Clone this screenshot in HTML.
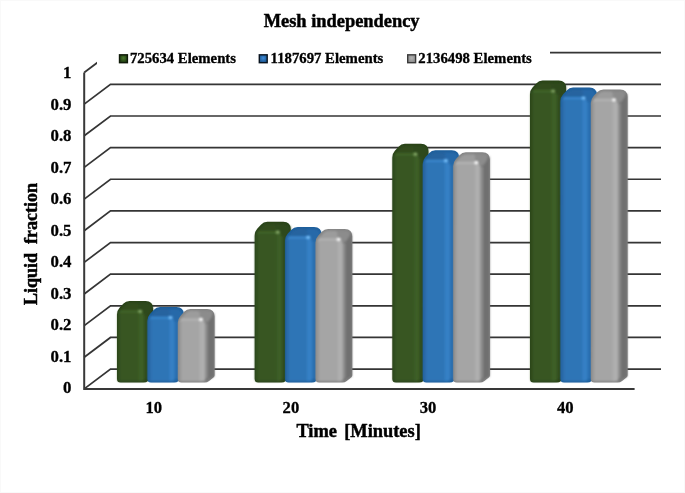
<!DOCTYPE html>
<html><head><meta charset="utf-8"><title>Mesh independency</title>
<style>html,body{margin:0;padding:0;background:#fff;overflow:hidden}svg{display:block}text{font-family:"Liberation Serif","Times New Roman",serif;font-weight:bold;fill:#000}</style></head><body>
<svg width="685" height="493" viewBox="0 0 685 493">
<defs>
<filter id="b1" x="-10%" y="-10%" width="120%" height="120%"><feGaussianBlur stdDeviation="0.9"/></filter>
<filter id="b2" x="-50%" y="-50%" width="200%" height="200%"><feGaussianBlur stdDeviation="1.1"/></filter>
<filter id="b0" x="-5%" y="-5%" width="110%" height="110%"><feGaussianBlur stdDeviation="0.35"/></filter>
</defs>
<rect x="0" y="0" width="685" height="493" fill="#fff"/>
<rect x="0.5" y="0.5" width="684" height="492" fill="none" stroke="#f9f9f9" stroke-width="1"/>
<g fill="none" stroke="#343434" stroke-width="1.7" stroke-linejoin="miter" filter="url(#b0)">
<path d="M84.2,388.90 L110.5,369.10 H661"/>
<path d="M84.2,357.26 L110.5,337.46 H661"/>
<path d="M84.2,325.62 L110.5,305.82 H661"/>
<path d="M84.2,293.98 L110.5,274.18 H661"/>
<path d="M84.2,262.34 L110.5,242.54 H661"/>
<path d="M84.2,230.70 L110.5,210.90 H661"/>
<path d="M84.2,199.06 L110.5,179.26 H661"/>
<path d="M84.2,167.42 L110.5,147.62 H661"/>
<path d="M84.2,135.78 L110.5,115.98 H661"/>
<path d="M84.2,104.14 L110.5,84.34 H661"/>
<path d="M84.2,72.50 L110.5,52.70 H661"/>
<path d="M84.2,72.50 V388.90 H634.6" stroke-width="2.0" stroke="#383838"/>
</g>
<rect x="97" y="44" width="453" height="26" fill="#fff"/>
<g>
<path d="M117.00,379.00 Q117.00,382.50 120.50,382.50 L143.70,382.50 Q146.20,382.50 148.11,380.89 L151.95,377.67 Q153.10,376.70 153.10,375.20 L153.10,308.40 Q153.10,300.90 145.60,300.90 L129.60,300.90 Q125.80,300.90 123.26,303.73 L119.54,307.87 Q117.00,310.70 117.00,314.50 Z" fill="#29421a"/>
<g filter="url(#b1)">
<path d="M144.30,305.90 L152.70,305.40 V376.30 L144.30,381.50 Z" fill="#2d471b"/>
<path d="M119.40,315.05 Q118.40,315.10 118.46,314.10 L118.50,313.35 Q118.60,311.60 120.66,309.42 L124.94,304.88 Q127.00,302.70 130.00,302.75 L137.60,302.88 Q138.60,302.90 138.74,303.89 L140.06,313.11 Q140.20,314.10 139.20,314.15 Z" fill="#304c1d"/>
<path d="M140.70,314.10 Q140.20,314.10 140.13,313.61 L138.67,303.39 Q138.60,302.90 139.10,302.90 L146.10,302.90 Q149.60,302.90 150.45,304.90 L150.52,305.06 Q151.30,306.90 150.26,308.61 L147.42,313.25 Q146.90,314.10 145.90,314.10 Z" fill="#2f4a1c"/>
<path d="M118.01,378.70 Q118.00,381.20 120.50,381.20 L138.60,381.20 Q139.10,381.20 139.10,380.70 L139.10,311.60 Q139.10,311.10 138.60,311.10 L122.20,311.10 Q118.20,311.10 118.19,315.10 Z" fill="#385723"/>
<rect x="117.80" y="314.10" width="2.6" height="66.40" fill="#324f1f"/>
<path d="M138.80,380.70 Q138.80,381.20 139.30,381.20 L140.80,381.20 Q142.80,381.20 143.55,380.60 L143.55,380.60 Q144.30,380.00 144.30,379.00 L144.30,316.60 Q144.30,313.60 141.57,312.36 L139.26,311.31 Q138.80,311.10 138.80,311.60 Z" fill="#3d5e27"/>
<rect x="144.30" y="315.10" width="2.60" height="63.40" fill="#324d1e"/>
<path d="M120.00,311.40 H139.80" stroke="#456b2d" stroke-width="1.6" fill="none"/>
</g>
<ellipse cx="140.10" cy="311.30" rx="2.0" ry="1.6" fill="#86aa68" filter="url(#b2)"/>
</g>
<g>
<path d="M147.45,379.00 Q147.45,382.50 150.95,382.50 L174.15,382.50 Q176.65,382.50 178.60,380.93 L182.68,377.64 Q183.85,376.70 183.85,375.20 L183.85,314.60 Q183.85,307.10 176.35,307.10 L160.05,307.10 Q156.25,307.10 153.71,309.93 L149.99,314.07 Q147.45,316.90 147.45,320.70 Z" fill="#1e5e9b"/>
<g filter="url(#b1)">
<path d="M174.75,312.10 L183.45,311.60 V376.30 L174.75,381.50 Z" fill="#2266a6"/>
<path d="M149.85,321.25 Q148.85,321.30 148.91,320.30 L148.95,319.55 Q149.05,317.80 151.11,315.62 L155.39,311.08 Q157.45,308.90 160.45,308.95 L168.05,309.08 Q169.05,309.10 169.19,310.09 L170.51,319.31 Q170.65,320.30 169.65,320.35 Z" fill="#25639f"/>
<path d="M171.15,320.30 Q170.65,320.30 170.58,319.81 L169.12,309.59 Q169.05,309.10 169.55,309.10 L176.85,309.10 Q180.35,309.10 181.20,311.10 L181.27,311.26 Q182.05,313.10 180.96,314.77 L177.90,319.46 Q177.35,320.30 176.35,320.30 Z" fill="#2769a9"/>
<path d="M148.46,378.70 Q148.45,381.20 150.95,381.20 L169.05,381.20 Q169.55,381.20 169.55,380.70 L169.55,317.80 Q169.55,317.30 169.05,317.30 L152.65,317.30 Q148.65,317.30 148.64,321.30 Z" fill="#2e75b6"/>
<rect x="148.25" y="320.30" width="2.6" height="60.20" fill="#2969a6"/>
<path d="M169.25,380.70 Q169.25,381.20 169.75,381.20 L171.25,381.20 Q173.25,381.20 174.00,380.60 L174.00,380.60 Q174.75,380.00 174.75,379.00 L174.75,322.80 Q174.75,319.80 172.02,318.56 L169.71,317.51 Q169.25,317.30 169.25,317.80 Z" fill="#3680c5"/>
<rect x="174.75" y="321.30" width="2.60" height="57.20" fill="#2a70b2"/>
<path d="M150.45,317.60 H170.25" stroke="#3e8dd6" stroke-width="1.6" fill="none"/>
</g>
<ellipse cx="170.55" cy="317.50" rx="2.0" ry="1.6" fill="#7cc4ff" filter="url(#b2)"/>
</g>
<g>
<path d="M177.90,379.00 Q177.90,382.50 181.40,382.50 L204.60,382.50 Q207.10,382.50 209.08,380.97 L213.41,377.62 Q214.60,376.70 214.60,375.20 L214.60,316.50 Q214.60,309.00 207.10,309.00 L190.50,309.00 Q186.70,309.00 184.16,311.83 L180.44,315.97 Q177.90,318.80 177.90,322.60 Z" fill="#848484"/>
<g filter="url(#b1)">
<path d="M205.20,314.00 L214.20,313.50 V376.30 L205.20,381.50 Z" fill="#707070"/>
<path d="M180.30,323.15 Q179.30,323.20 179.36,322.20 L179.40,321.45 Q179.50,319.70 181.56,317.52 L185.84,312.98 Q187.90,310.80 190.90,310.85 L198.50,310.98 Q199.50,311.00 199.64,311.99 L200.96,321.21 Q201.10,322.20 200.10,322.25 Z" fill="#9c9c9c"/>
<path d="M201.60,322.20 Q201.10,322.20 201.03,321.71 L199.57,311.49 Q199.50,311.00 200.00,311.00 L207.60,311.00 Q211.10,311.00 211.95,313.00 L212.02,313.16 Q212.80,315.00 211.66,316.64 L208.37,321.38 Q207.80,322.20 206.80,322.20 Z" fill="#8c8c8c"/>
<path d="M178.91,378.70 Q178.90,381.20 181.40,381.20 L199.50,381.20 Q200.00,381.20 200.00,380.70 L200.00,319.70 Q200.00,319.20 199.50,319.20 L183.10,319.20 Q179.10,319.20 179.09,323.20 Z" fill="#a5a5a5"/>
<rect x="178.70" y="322.20" width="2.6" height="58.30" fill="#979797"/>
<path d="M199.70,380.70 Q199.70,381.20 200.20,381.20 L201.70,381.20 Q203.70,381.20 204.45,380.60 L204.45,380.60 Q205.20,380.00 205.20,379.00 L205.20,324.70 Q205.20,321.70 202.47,320.46 L200.16,319.41 Q199.70,319.20 199.70,319.70 Z" fill="#afafaf"/>
<rect x="205.20" y="323.20" width="2.60" height="55.30" fill="#8c8c8c"/>
<path d="M180.90,319.50 H200.70" stroke="#b8b8b8" stroke-width="1.6" fill="none"/>
</g>
<ellipse cx="201.00" cy="319.40" rx="2.0" ry="1.6" fill="#ffffff" filter="url(#b2)"/>
</g>
<g>
<path d="M254.67,379.00 Q254.67,382.50 258.17,382.50 L281.37,382.50 Q283.87,382.50 285.78,380.89 L289.62,377.67 Q290.77,376.70 290.77,375.20 L290.77,229.30 Q290.77,221.80 283.27,221.80 L267.27,221.80 Q263.47,221.80 260.93,224.63 L257.21,228.77 Q254.67,231.60 254.67,235.40 Z" fill="#29421a"/>
<g filter="url(#b1)">
<path d="M281.97,226.80 L290.37,226.30 V376.30 L281.97,381.50 Z" fill="#2d471b"/>
<path d="M257.07,235.95 Q256.07,236.00 256.13,235.00 L256.17,234.25 Q256.27,232.50 258.33,230.32 L262.61,225.78 Q264.67,223.60 267.67,223.65 L275.27,223.78 Q276.27,223.80 276.41,224.79 L277.73,234.01 Q277.87,235.00 276.87,235.05 Z" fill="#304c1d"/>
<path d="M278.37,235.00 Q277.87,235.00 277.80,234.51 L276.34,224.29 Q276.27,223.80 276.77,223.80 L283.77,223.80 Q287.27,223.80 288.12,225.80 L288.19,225.96 Q288.97,227.80 287.93,229.51 L285.09,234.15 Q284.57,235.00 283.57,235.00 Z" fill="#2f4a1c"/>
<path d="M255.67,378.70 Q255.67,381.20 258.17,381.20 L276.27,381.20 Q276.77,381.20 276.77,380.70 L276.77,232.50 Q276.77,232.00 276.27,232.00 L259.87,232.00 Q255.87,232.00 255.86,236.00 Z" fill="#385723"/>
<rect x="255.47" y="235.00" width="2.6" height="145.50" fill="#324f1f"/>
<path d="M276.47,380.70 Q276.47,381.20 276.97,381.20 L278.47,381.20 Q280.47,381.20 281.22,380.60 L281.22,380.60 Q281.97,380.00 281.97,379.00 L281.97,237.50 Q281.97,234.50 279.24,233.26 L276.93,232.21 Q276.47,232.00 276.47,232.50 Z" fill="#3d5e27"/>
<rect x="281.97" y="236.00" width="2.60" height="142.50" fill="#324d1e"/>
<path d="M257.67,232.30 H277.47" stroke="#456b2d" stroke-width="1.6" fill="none"/>
</g>
<ellipse cx="277.77" cy="232.20" rx="2.0" ry="1.6" fill="#86aa68" filter="url(#b2)"/>
</g>
<g>
<path d="M285.12,379.00 Q285.12,382.50 288.62,382.50 L311.82,382.50 Q314.32,382.50 316.27,380.93 L320.35,377.64 Q321.52,376.70 321.52,375.20 L321.52,234.40 Q321.52,226.90 314.02,226.90 L297.72,226.90 Q293.92,226.90 291.38,229.73 L287.66,233.87 Q285.12,236.70 285.12,240.50 Z" fill="#1e5e9b"/>
<g filter="url(#b1)">
<path d="M312.42,231.90 L321.12,231.40 V376.30 L312.42,381.50 Z" fill="#2266a6"/>
<path d="M287.52,241.05 Q286.52,241.10 286.58,240.10 L286.62,239.35 Q286.72,237.60 288.78,235.42 L293.06,230.88 Q295.12,228.70 298.12,228.75 L305.72,228.88 Q306.72,228.90 306.86,229.89 L308.18,239.11 Q308.32,240.10 307.32,240.15 Z" fill="#25639f"/>
<path d="M308.82,240.10 Q308.32,240.10 308.25,239.61 L306.79,229.39 Q306.72,228.90 307.22,228.90 L314.52,228.90 Q318.02,228.90 318.87,230.90 L318.94,231.06 Q319.72,232.90 318.63,234.57 L315.57,239.26 Q315.02,240.10 314.02,240.10 Z" fill="#2769a9"/>
<path d="M286.12,378.70 Q286.12,381.20 288.62,381.20 L306.72,381.20 Q307.22,381.20 307.22,380.70 L307.22,237.60 Q307.22,237.10 306.72,237.10 L290.32,237.10 Q286.32,237.10 286.31,241.10 Z" fill="#2e75b6"/>
<rect x="285.92" y="240.10" width="2.6" height="140.40" fill="#2969a6"/>
<path d="M306.92,380.70 Q306.92,381.20 307.42,381.20 L308.92,381.20 Q310.92,381.20 311.67,380.60 L311.67,380.60 Q312.42,380.00 312.42,379.00 L312.42,242.60 Q312.42,239.60 309.69,238.36 L307.38,237.31 Q306.92,237.10 306.92,237.60 Z" fill="#3680c5"/>
<rect x="312.42" y="241.10" width="2.60" height="137.40" fill="#2a70b2"/>
<path d="M288.12,237.40 H307.92" stroke="#3e8dd6" stroke-width="1.6" fill="none"/>
</g>
<ellipse cx="308.22" cy="237.30" rx="2.0" ry="1.6" fill="#7cc4ff" filter="url(#b2)"/>
</g>
<g>
<path d="M315.57,379.00 Q315.57,382.50 319.07,382.50 L342.27,382.50 Q344.77,382.50 346.75,380.97 L351.08,377.62 Q352.27,376.70 352.27,375.20 L352.27,236.40 Q352.27,228.90 344.77,228.90 L328.17,228.90 Q324.37,228.90 321.83,231.73 L318.11,235.87 Q315.57,238.70 315.57,242.50 Z" fill="#848484"/>
<g filter="url(#b1)">
<path d="M342.87,233.90 L351.87,233.40 V376.30 L342.87,381.50 Z" fill="#707070"/>
<path d="M317.97,243.05 Q316.97,243.10 317.03,242.10 L317.07,241.35 Q317.17,239.60 319.23,237.42 L323.51,232.88 Q325.57,230.70 328.57,230.75 L336.17,230.88 Q337.17,230.90 337.31,231.89 L338.63,241.11 Q338.77,242.10 337.77,242.15 Z" fill="#9c9c9c"/>
<path d="M339.27,242.10 Q338.77,242.10 338.70,241.61 L337.24,231.39 Q337.17,230.90 337.67,230.90 L345.27,230.90 Q348.77,230.90 349.62,232.90 L349.69,233.06 Q350.47,234.90 349.33,236.54 L346.04,241.28 Q345.47,242.10 344.47,242.10 Z" fill="#8c8c8c"/>
<path d="M316.57,378.70 Q316.57,381.20 319.07,381.20 L337.17,381.20 Q337.67,381.20 337.67,380.70 L337.67,239.60 Q337.67,239.10 337.17,239.10 L320.77,239.10 Q316.77,239.10 316.76,243.10 Z" fill="#a5a5a5"/>
<rect x="316.37" y="242.10" width="2.6" height="138.40" fill="#979797"/>
<path d="M337.37,380.70 Q337.37,381.20 337.87,381.20 L339.37,381.20 Q341.37,381.20 342.12,380.60 L342.12,380.60 Q342.87,380.00 342.87,379.00 L342.87,244.60 Q342.87,241.60 340.14,240.36 L337.83,239.31 Q337.37,239.10 337.37,239.60 Z" fill="#afafaf"/>
<rect x="342.87" y="243.10" width="2.60" height="135.40" fill="#8c8c8c"/>
<path d="M318.57,239.40 H338.37" stroke="#b8b8b8" stroke-width="1.6" fill="none"/>
</g>
<ellipse cx="338.67" cy="239.30" rx="2.0" ry="1.6" fill="#ffffff" filter="url(#b2)"/>
</g>
<g>
<path d="M392.34,379.00 Q392.34,382.50 395.84,382.50 L419.04,382.50 Q421.54,382.50 423.45,380.89 L427.29,377.67 Q428.44,376.70 428.44,375.20 L428.44,151.30 Q428.44,143.80 420.94,143.80 L404.94,143.80 Q401.14,143.80 398.60,146.63 L394.88,150.77 Q392.34,153.60 392.34,157.40 Z" fill="#29421a"/>
<g filter="url(#b1)">
<path d="M419.64,148.80 L428.04,148.30 V376.30 L419.64,381.50 Z" fill="#2d471b"/>
<path d="M394.74,157.95 Q393.74,158.00 393.80,157.00 L393.84,156.25 Q393.94,154.50 396.00,152.32 L400.28,147.78 Q402.34,145.60 405.34,145.65 L412.94,145.78 Q413.94,145.80 414.08,146.79 L415.40,156.01 Q415.54,157.00 414.54,157.05 Z" fill="#304c1d"/>
<path d="M416.04,157.00 Q415.54,157.00 415.47,156.51 L414.01,146.29 Q413.94,145.80 414.44,145.80 L421.44,145.80 Q424.94,145.80 425.79,147.80 L425.86,147.96 Q426.64,149.80 425.60,151.51 L422.76,156.15 Q422.24,157.00 421.24,157.00 Z" fill="#2f4a1c"/>
<path d="M393.34,378.70 Q393.34,381.20 395.84,381.20 L413.94,381.20 Q414.44,381.20 414.44,380.70 L414.44,154.50 Q414.44,154.00 413.94,154.00 L397.54,154.00 Q393.54,154.00 393.54,158.00 Z" fill="#385723"/>
<rect x="393.14" y="157.00" width="2.6" height="223.50" fill="#324f1f"/>
<path d="M414.14,380.70 Q414.14,381.20 414.64,381.20 L416.14,381.20 Q418.14,381.20 418.89,380.60 L418.89,380.60 Q419.64,380.00 419.64,379.00 L419.64,159.50 Q419.64,156.50 416.91,155.26 L414.60,154.21 Q414.14,154.00 414.14,154.50 Z" fill="#3d5e27"/>
<rect x="419.64" y="158.00" width="2.60" height="220.50" fill="#324d1e"/>
<path d="M395.34,154.30 H415.14" stroke="#456b2d" stroke-width="1.6" fill="none"/>
</g>
<ellipse cx="415.44" cy="154.20" rx="2.0" ry="1.6" fill="#86aa68" filter="url(#b2)"/>
</g>
<g>
<path d="M422.79,379.00 Q422.79,382.50 426.29,382.50 L449.49,382.50 Q451.99,382.50 453.94,380.93 L458.02,377.64 Q459.19,376.70 459.19,375.20 L459.19,157.80 Q459.19,150.30 451.69,150.30 L435.39,150.30 Q431.59,150.30 429.05,153.13 L425.33,157.27 Q422.79,160.10 422.79,163.90 Z" fill="#1e5e9b"/>
<g filter="url(#b1)">
<path d="M450.09,155.30 L458.79,154.80 V376.30 L450.09,381.50 Z" fill="#2266a6"/>
<path d="M425.19,164.45 Q424.19,164.50 424.25,163.50 L424.29,162.75 Q424.39,161.00 426.45,158.82 L430.73,154.28 Q432.79,152.10 435.79,152.15 L443.39,152.28 Q444.39,152.30 444.53,153.29 L445.85,162.51 Q445.99,163.50 444.99,163.55 Z" fill="#25639f"/>
<path d="M446.49,163.50 Q445.99,163.50 445.92,163.01 L444.46,152.79 Q444.39,152.30 444.89,152.30 L452.19,152.30 Q455.69,152.30 456.54,154.30 L456.61,154.46 Q457.39,156.30 456.30,157.97 L453.24,162.66 Q452.69,163.50 451.69,163.50 Z" fill="#2769a9"/>
<path d="M423.79,378.70 Q423.79,381.20 426.29,381.20 L444.39,381.20 Q444.89,381.20 444.89,380.70 L444.89,161.00 Q444.89,160.50 444.39,160.50 L427.99,160.50 Q423.99,160.50 423.99,164.50 Z" fill="#2e75b6"/>
<rect x="423.59" y="163.50" width="2.6" height="217.00" fill="#2969a6"/>
<path d="M444.59,380.70 Q444.59,381.20 445.09,381.20 L446.59,381.20 Q448.59,381.20 449.34,380.60 L449.34,380.60 Q450.09,380.00 450.09,379.00 L450.09,166.00 Q450.09,163.00 447.36,161.76 L445.05,160.71 Q444.59,160.50 444.59,161.00 Z" fill="#3680c5"/>
<rect x="450.09" y="164.50" width="2.60" height="214.00" fill="#2a70b2"/>
<path d="M425.79,160.80 H445.59" stroke="#3e8dd6" stroke-width="1.6" fill="none"/>
</g>
<ellipse cx="445.89" cy="160.70" rx="2.0" ry="1.6" fill="#7cc4ff" filter="url(#b2)"/>
</g>
<g>
<path d="M453.24,379.00 Q453.24,382.50 456.74,382.50 L479.94,382.50 Q482.44,382.50 484.42,380.97 L488.75,377.62 Q489.94,376.70 489.94,375.20 L489.94,159.80 Q489.94,152.30 482.44,152.30 L465.84,152.30 Q462.04,152.30 459.50,155.13 L455.78,159.27 Q453.24,162.10 453.24,165.90 Z" fill="#848484"/>
<g filter="url(#b1)">
<path d="M480.54,157.30 L489.54,156.80 V376.30 L480.54,381.50 Z" fill="#707070"/>
<path d="M455.64,166.45 Q454.64,166.50 454.70,165.50 L454.74,164.75 Q454.84,163.00 456.90,160.82 L461.18,156.28 Q463.24,154.10 466.24,154.15 L473.84,154.28 Q474.84,154.30 474.98,155.29 L476.30,164.51 Q476.44,165.50 475.44,165.55 Z" fill="#9c9c9c"/>
<path d="M476.94,165.50 Q476.44,165.50 476.37,165.01 L474.91,154.79 Q474.84,154.30 475.34,154.30 L482.94,154.30 Q486.44,154.30 487.29,156.30 L487.36,156.46 Q488.14,158.30 487.00,159.94 L483.71,164.68 Q483.14,165.50 482.14,165.50 Z" fill="#8c8c8c"/>
<path d="M454.24,378.70 Q454.24,381.20 456.74,381.20 L474.84,381.20 Q475.34,381.20 475.34,380.70 L475.34,163.00 Q475.34,162.50 474.84,162.50 L458.44,162.50 Q454.44,162.50 454.44,166.50 Z" fill="#a5a5a5"/>
<rect x="454.04" y="165.50" width="2.6" height="215.00" fill="#979797"/>
<path d="M475.04,380.70 Q475.04,381.20 475.54,381.20 L477.04,381.20 Q479.04,381.20 479.79,380.60 L479.79,380.60 Q480.54,380.00 480.54,379.00 L480.54,168.00 Q480.54,165.00 477.81,163.76 L475.50,162.71 Q475.04,162.50 475.04,163.00 Z" fill="#afafaf"/>
<rect x="480.54" y="166.50" width="2.60" height="212.00" fill="#8c8c8c"/>
<path d="M456.24,162.80 H476.04" stroke="#b8b8b8" stroke-width="1.6" fill="none"/>
</g>
<ellipse cx="476.34" cy="162.70" rx="2.0" ry="1.6" fill="#ffffff" filter="url(#b2)"/>
</g>
<g>
<path d="M530.01,379.00 Q530.01,382.50 533.51,382.50 L556.71,382.50 Q559.21,382.50 561.12,380.89 L564.96,377.67 Q566.11,376.70 566.11,375.20 L566.11,88.10 Q566.11,80.60 558.61,80.60 L542.61,80.60 Q538.81,80.60 536.27,83.43 L532.55,87.57 Q530.01,90.40 530.01,94.20 Z" fill="#29421a"/>
<g filter="url(#b1)">
<path d="M557.31,85.60 L565.71,85.10 V376.30 L557.31,381.50 Z" fill="#2d471b"/>
<path d="M532.41,94.75 Q531.41,94.80 531.47,93.80 L531.51,93.05 Q531.61,91.30 533.67,89.12 L537.95,84.58 Q540.01,82.40 543.01,82.45 L550.61,82.58 Q551.61,82.60 551.75,83.59 L553.07,92.81 Q553.21,93.80 552.21,93.85 Z" fill="#304c1d"/>
<path d="M553.71,93.80 Q553.21,93.80 553.14,93.31 L551.68,83.09 Q551.61,82.60 552.11,82.60 L559.11,82.60 Q562.61,82.60 563.46,84.60 L563.53,84.76 Q564.31,86.60 563.27,88.31 L560.43,92.95 Q559.91,93.80 558.91,93.80 Z" fill="#2f4a1c"/>
<path d="M531.01,378.70 Q531.01,381.20 533.51,381.20 L551.61,381.20 Q552.11,381.20 552.11,380.70 L552.11,91.30 Q552.11,90.80 551.61,90.80 L535.21,90.80 Q531.21,90.80 531.21,94.80 Z" fill="#385723"/>
<rect x="530.81" y="93.80" width="2.6" height="286.70" fill="#324f1f"/>
<path d="M551.81,380.70 Q551.81,381.20 552.31,381.20 L553.81,381.20 Q555.81,381.20 556.56,380.60 L556.56,380.60 Q557.31,380.00 557.31,379.00 L557.31,96.30 Q557.31,93.30 554.58,92.06 L552.27,91.01 Q551.81,90.80 551.81,91.30 Z" fill="#3d5e27"/>
<rect x="557.31" y="94.80" width="2.60" height="283.70" fill="#324d1e"/>
<path d="M533.01,91.10 H552.81" stroke="#456b2d" stroke-width="1.6" fill="none"/>
</g>
<ellipse cx="553.11" cy="91.00" rx="2.0" ry="1.6" fill="#86aa68" filter="url(#b2)"/>
</g>
<g>
<path d="M560.46,379.00 Q560.46,382.50 563.96,382.50 L587.16,382.50 Q589.66,382.50 591.61,380.93 L595.69,377.64 Q596.86,376.70 596.86,375.20 L596.86,95.10 Q596.86,87.60 589.36,87.60 L573.06,87.60 Q569.26,87.60 566.72,90.43 L563.00,94.57 Q560.46,97.40 560.46,101.20 Z" fill="#1e5e9b"/>
<g filter="url(#b1)">
<path d="M587.76,92.60 L596.46,92.10 V376.30 L587.76,381.50 Z" fill="#2266a6"/>
<path d="M562.86,101.75 Q561.86,101.80 561.92,100.80 L561.96,100.05 Q562.06,98.30 564.12,96.12 L568.40,91.58 Q570.46,89.40 573.46,89.45 L581.06,89.58 Q582.06,89.60 582.20,90.59 L583.52,99.81 Q583.66,100.80 582.66,100.85 Z" fill="#25639f"/>
<path d="M584.16,100.80 Q583.66,100.80 583.59,100.31 L582.13,90.09 Q582.06,89.60 582.56,89.60 L589.86,89.60 Q593.36,89.60 594.21,91.60 L594.28,91.76 Q595.06,93.60 593.97,95.27 L590.91,99.96 Q590.36,100.80 589.36,100.80 Z" fill="#2769a9"/>
<path d="M561.46,378.70 Q561.46,381.20 563.96,381.20 L582.06,381.20 Q582.56,381.20 582.56,380.70 L582.56,98.30 Q582.56,97.80 582.06,97.80 L565.66,97.80 Q561.66,97.80 561.66,101.80 Z" fill="#2e75b6"/>
<rect x="561.26" y="100.80" width="2.6" height="279.70" fill="#2969a6"/>
<path d="M582.26,380.70 Q582.26,381.20 582.76,381.20 L584.26,381.20 Q586.26,381.20 587.01,380.60 L587.01,380.60 Q587.76,380.00 587.76,379.00 L587.76,103.30 Q587.76,100.30 585.03,99.06 L582.72,98.01 Q582.26,97.80 582.26,98.30 Z" fill="#3680c5"/>
<rect x="587.76" y="101.80" width="2.60" height="276.70" fill="#2a70b2"/>
<path d="M563.46,98.10 H583.26" stroke="#3e8dd6" stroke-width="1.6" fill="none"/>
</g>
<ellipse cx="583.56" cy="98.00" rx="2.0" ry="1.6" fill="#7cc4ff" filter="url(#b2)"/>
</g>
<g>
<path d="M590.91,379.00 Q590.91,382.50 594.41,382.50 L617.61,382.50 Q620.11,382.50 622.09,380.97 L626.42,377.62 Q627.61,376.70 627.61,375.20 L627.61,96.90 Q627.61,89.40 620.11,89.40 L603.51,89.40 Q599.71,89.40 597.17,92.23 L593.45,96.37 Q590.91,99.20 590.91,103.00 Z" fill="#848484"/>
<g filter="url(#b1)">
<path d="M618.21,94.40 L627.21,93.90 V376.30 L618.21,381.50 Z" fill="#707070"/>
<path d="M593.31,103.55 Q592.31,103.60 592.37,102.60 L592.41,101.85 Q592.51,100.10 594.57,97.92 L598.85,93.38 Q600.91,91.20 603.91,91.25 L611.51,91.38 Q612.51,91.40 612.65,92.39 L613.97,101.61 Q614.11,102.60 613.11,102.65 Z" fill="#9c9c9c"/>
<path d="M614.61,102.60 Q614.11,102.60 614.04,102.11 L612.58,91.89 Q612.51,91.40 613.01,91.40 L620.61,91.40 Q624.11,91.40 624.96,93.40 L625.03,93.56 Q625.81,95.40 624.67,97.04 L621.38,101.78 Q620.81,102.60 619.81,102.60 Z" fill="#8c8c8c"/>
<path d="M591.91,378.70 Q591.91,381.20 594.41,381.20 L612.51,381.20 Q613.01,381.20 613.01,380.70 L613.01,100.10 Q613.01,99.60 612.51,99.60 L596.11,99.60 Q592.11,99.60 592.11,103.60 Z" fill="#a5a5a5"/>
<rect x="591.71" y="102.60" width="2.6" height="277.90" fill="#979797"/>
<path d="M612.71,380.70 Q612.71,381.20 613.21,381.20 L614.71,381.20 Q616.71,381.20 617.46,380.60 L617.46,380.60 Q618.21,380.00 618.21,379.00 L618.21,105.10 Q618.21,102.10 615.48,100.86 L613.17,99.81 Q612.71,99.60 612.71,100.10 Z" fill="#afafaf"/>
<rect x="618.21" y="103.60" width="2.60" height="274.90" fill="#8c8c8c"/>
<path d="M593.91,99.90 H613.71" stroke="#b8b8b8" stroke-width="1.6" fill="none"/>
</g>
<ellipse cx="614.01" cy="99.80" rx="2.0" ry="1.6" fill="#ffffff" filter="url(#b2)"/>
</g>
<text transform="translate(341.6,27.0) scale(1.0,1)" font-size="18.4" text-anchor="middle" stroke="#000" stroke-width="0.45" xml:space="preserve" style="white-space:pre">Mesh independency</text>
<radialGradient id="sg0" cx="0.5" cy="0.4" r="0.65"><stop offset="0" stop-color="#4a7a2e"/><stop offset="1" stop-color="#1f3a10"/></radialGradient>
<rect x="118.8" y="54.1" width="9.3" height="9.3" fill="#0f1a08"/>
<rect x="120.2" y="55.5" width="6.5" height="6.5" fill="url(#sg0)" filter="url(#b0)"/>
<text transform="translate(129.9,63.3) scale(1.062,1)" font-size="13.9" text-anchor="start" stroke="#000" stroke-width="0.3" xml:space="preserve" style="white-space:pre">725634 Elements</text>
<radialGradient id="sg1" cx="0.5" cy="0.4" r="0.65"><stop offset="0" stop-color="#3f8ddb"/><stop offset="1" stop-color="#1b558f"/></radialGradient>
<rect x="258.6" y="54.1" width="9.3" height="9.3" fill="#08131f"/>
<rect x="260.0" y="55.5" width="6.5" height="6.5" fill="url(#sg1)" filter="url(#b0)"/>
<text transform="translate(270.6,63.3) scale(1.062,1)" font-size="13.9" text-anchor="start" stroke="#000" stroke-width="0.3" xml:space="preserve" style="white-space:pre">1187697 Elements</text>
<radialGradient id="sg2" cx="0.5" cy="0.4" r="0.65"><stop offset="0" stop-color="#b4b4b4"/><stop offset="1" stop-color="#8c8c8c"/></radialGradient>
<rect x="407.0" y="54.1" width="9.3" height="9.3" fill="#3a3a3a"/>
<rect x="408.4" y="55.5" width="6.5" height="6.5" fill="url(#sg2)" filter="url(#b0)"/>
<text transform="translate(418.3,63.3) scale(1.062,1)" font-size="13.9" text-anchor="start" stroke="#000" stroke-width="0.3" xml:space="preserve" style="white-space:pre">2136498 Elements</text>
<text transform="translate(71.5,393.1) scale(1.0,1)" font-size="16.8" text-anchor="end" stroke="#000" stroke-width="0.3" xml:space="preserve" style="white-space:pre">0</text>
<text transform="translate(71.5,361.6) scale(1.0,1)" font-size="16.8" text-anchor="end" stroke="#000" stroke-width="0.3" xml:space="preserve" style="white-space:pre">0.1</text>
<text transform="translate(71.5,330.1) scale(1.0,1)" font-size="16.8" text-anchor="end" stroke="#000" stroke-width="0.3" xml:space="preserve" style="white-space:pre">0.2</text>
<text transform="translate(71.5,298.6) scale(1.0,1)" font-size="16.8" text-anchor="end" stroke="#000" stroke-width="0.3" xml:space="preserve" style="white-space:pre">0.3</text>
<text transform="translate(71.5,267.1) scale(1.0,1)" font-size="16.8" text-anchor="end" stroke="#000" stroke-width="0.3" xml:space="preserve" style="white-space:pre">0.4</text>
<text transform="translate(71.5,235.6) scale(1.0,1)" font-size="16.8" text-anchor="end" stroke="#000" stroke-width="0.3" xml:space="preserve" style="white-space:pre">0.5</text>
<text transform="translate(71.5,204.1) scale(1.0,1)" font-size="16.8" text-anchor="end" stroke="#000" stroke-width="0.3" xml:space="preserve" style="white-space:pre">0.6</text>
<text transform="translate(71.5,172.6) scale(1.0,1)" font-size="16.8" text-anchor="end" stroke="#000" stroke-width="0.3" xml:space="preserve" style="white-space:pre">0.7</text>
<text transform="translate(71.5,141.1) scale(1.0,1)" font-size="16.8" text-anchor="end" stroke="#000" stroke-width="0.3" xml:space="preserve" style="white-space:pre">0.8</text>
<text transform="translate(71.5,109.6) scale(1.0,1)" font-size="16.8" text-anchor="end" stroke="#000" stroke-width="0.3" xml:space="preserve" style="white-space:pre">0.9</text>
<text transform="translate(71.5,78.1) scale(1.0,1)" font-size="16.8" text-anchor="end" stroke="#000" stroke-width="0.3" xml:space="preserve" style="white-space:pre">1</text>
<text transform="translate(153.8,412.5) scale(1.0,1)" font-size="16.6" text-anchor="middle" stroke="#000" stroke-width="0.3" xml:space="preserve" style="white-space:pre">10</text>
<text transform="translate(290.9,412.5) scale(1.0,1)" font-size="16.6" text-anchor="middle" stroke="#000" stroke-width="0.3" xml:space="preserve" style="white-space:pre">20</text>
<text transform="translate(428.1,412.5) scale(1.0,1)" font-size="16.6" text-anchor="middle" stroke="#000" stroke-width="0.3" xml:space="preserve" style="white-space:pre">30</text>
<text transform="translate(565.3,412.5) scale(1.0,1)" font-size="16.6" text-anchor="middle" stroke="#000" stroke-width="0.3" xml:space="preserve" style="white-space:pre">40</text>
<text transform="translate(358.6,437.3) scale(1.0,1)" font-size="18.4" text-anchor="middle" stroke="#000" stroke-width="0.45" word-spacing="-1" xml:space="preserve" style="white-space:pre">Time  [Minutes]</text>
<text transform="translate(36.6,243.9) scale(1.0,1) rotate(-90)" font-size="18.0" text-anchor="middle" stroke="#000" stroke-width="0.45" xml:space="preserve" style="white-space:pre">Liquid  fraction</text>
</svg></body></html>
